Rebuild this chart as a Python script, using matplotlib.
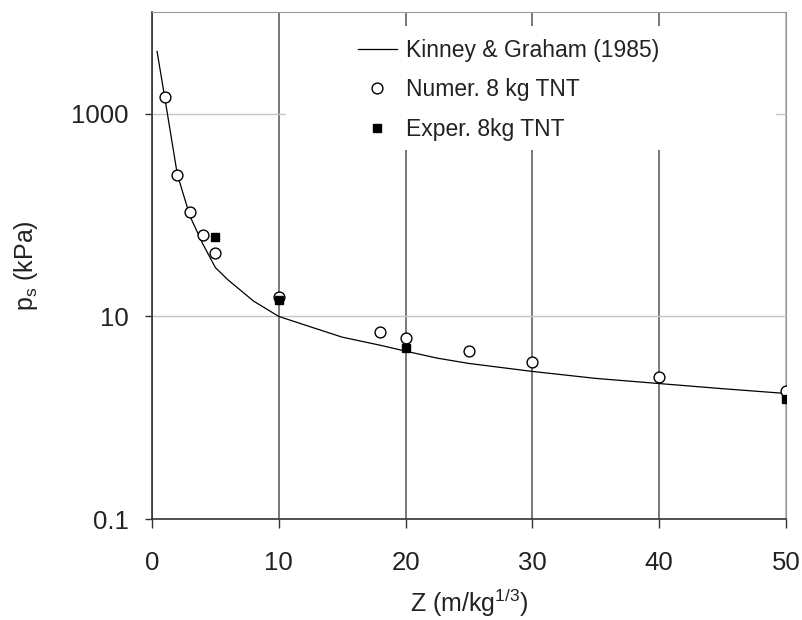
import matplotlib.pyplot as plt
from matplotlib.patches import Rectangle
from matplotlib.ticker import FixedLocator, NullLocator, FuncFormatter

plt.rcParams['font.family'] = ['Liberation Sans', 'DejaVu Sans']
plt.rcParams['mathtext.fontset'] = 'custom'
plt.rcParams['mathtext.rm'] = 'Liberation Sans'

# Kinney & Graham (1985) curve
kg_z = [0.4, 1, 2, 3, 4, 5, 6, 8, 10, 12.5, 15, 18, 20, 22.5, 25, 30, 35, 40, 45, 50]
kg_p = [4100, 1450, 250, 97, 52, 30.3, 22.9, 14.2, 10.0, 7.9, 6.25, 5.2, 4.55,
        3.88, 3.44, 2.87, 2.45, 2.18, 1.94, 1.74]

# numerical results, 8 kg TNT
num_z = [1, 2, 3, 4, 5, 10, 18, 20, 25, 30, 40, 50]
num_p = [1460, 248, 106, 63, 42, 15.7, 7.1, 6.2, 4.58, 3.54, 2.54, 1.86]

# experimental results, 8 kg TNT
exp_z = [5, 10, 20, 50]
exp_p = [60.5, 14.4, 4.87, 1.53]

x_ticks = [0, 10, 20, 30, 40, 50]
y_ticks = [0.1, 10, 1000]

fig = plt.figure(figsize=(8.03, 6.20), dpi=100)
ax = fig.add_axes([0.1893, 0.1624, 0.7895, 0.818])

ax.plot(kg_z, kg_p, color='black', lw=0.9, label='Kinney & Graham (1985)', zorder=3)
ax.plot(num_z, num_p, ls='none', marker='o', ms=7.8, mfc='white', mec='black',
        mew=1.0, label='Numer. 8 kg TNT', zorder=4)
ax.plot(exp_z, exp_p, ls='none', marker='s', ms=5.5, mfc='black', mec='black',
        label='Exper. 8kg TNT', zorder=5)

ax.set_yscale('log')
ax.set_xlim(0, 50)
ax.set_ylim(0.1, 10000)
ax.xaxis.set_major_locator(FixedLocator(x_ticks))
ax.yaxis.set_major_locator(FixedLocator(y_ticks))
ax.yaxis.set_minor_locator(NullLocator())
ax.yaxis.set_major_formatter(FuncFormatter(lambda v, p: '%g' % v))

ax.set_axisbelow(True)
ax.xaxis.grid(True, color='#555555', lw=1.1)
ax.yaxis.grid(True, color='#c4c4c4', lw=1.0)
ax.get_xgridlines()[-1].set_color('#aab0b8')

for side in ['top', 'right']:
    ax.spines[side].set_color('#999999')
for side in ['left', 'bottom']:
    ax.spines[side].set_color('#333333')
    ax.spines[side].set_linewidth(1.2)

ax.tick_params(axis='x', direction='out', length=6.5, width=1, color='#333333',
               labelsize=18.5, pad=16, labelcolor='#222222')
ax.tick_params(axis='y', direction='out', length=5, width=1, color='#333333',
               labelsize=18.5, pad=12, labelcolor='#222222')

ax.set_xlabel(r'Z (m/kg$^{1/3}$)', fontsize=18, color='#222222', labelpad=9)
ax.set_ylabel(r'p$_\mathregular{s}$ (kPa)', fontsize=18, color='#222222', labelpad=22)

# white area behind legend hides the grid
ax.add_patch(Rectangle((0.211, 0.728), 0.773, 0.244, transform=ax.transAxes,
                       facecolor='white', edgecolor='none', zorder=1.5))

leg = ax.legend(loc='upper left', bbox_to_anchor=(0.31, 0.966), frameon=False,
                fontsize=16.5, handlelength=1.7, handletextpad=0.4,
                labelspacing=0.72, borderaxespad=0)
for t in leg.get_texts():
    t.set_color('#222222')

fig.savefig('out.png', dpi=100)
